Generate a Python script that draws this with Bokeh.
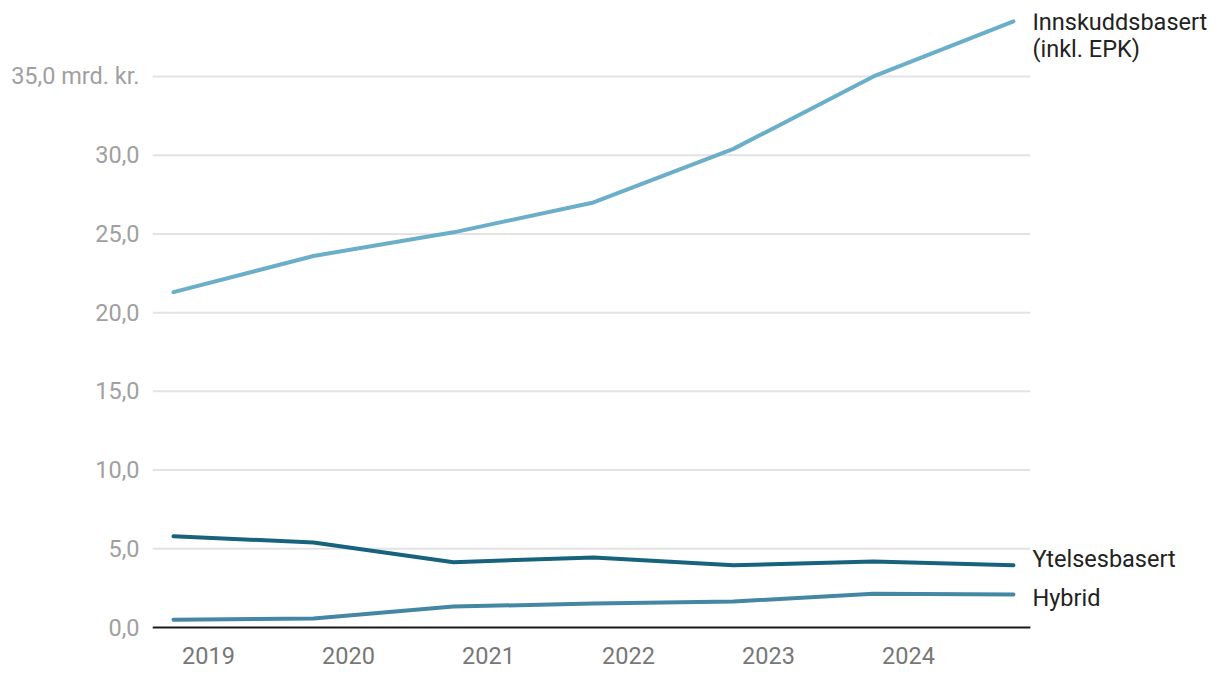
from bokeh.plotting import figure
from bokeh.models import Range1d, FixedTicker, CustomJSTickFormatter, Label
from bokeh.embed import file_html
from bokeh.resources import INLINE

# Data
periods = [0, 1, 2, 3, 4, 5, 6]
year_labels = ["2019", "2020", "2021", "2022", "2023", "2024"]
innskudd = [21.3, 23.6, 25.1, 27.0, 30.4, 35.0, 38.5]
ytelses = [5.8, 5.4, 4.15, 4.45, 3.95, 4.2, 3.95]
hybrid = [0.5, 0.57, 1.33, 1.52, 1.65, 2.15, 2.1]
y_ticks = [0, 5, 10, 15, 20, 25, 30, 35]
series_names = ["Innskuddsbasert", "(inkl. EPK)", "Ytelsesbasert", "Hybrid"]

FONT = "Roboto"
FS = "23.5px"
c_inn = "#6aaec9"
c_yt = "#17627d"
c_hy = "#4387a4"

X0, X1 = -0.15, 6.121   # plotted area (grid extent)
p = figure(width=1220, height=678, output_backend="svg", toolbar_location=None,
           x_range=Range1d(X0, 7.479), y_range=Range1d(-0.127, 39.0),
           min_border_left=152, min_border_right=0, min_border_top=13, min_border_bottom=49)
p.outline_line_color = None
p.xgrid.grid_line_color = None
p.ygrid.grid_line_color = None

# grid lines limited to plotting area
grid_y = [t for t in y_ticks if t > 0]
p.segment(x0=[X0] * len(grid_y), x1=[X1] * len(grid_y), y0=grid_y, y1=grid_y,
          line_color="#e3e3e3", line_width=2)

p.yaxis.ticker = FixedTicker(ticks=y_ticks)
p.yaxis.formatter = CustomJSTickFormatter(code="""
var s = tick.toFixed(1).replace('.', ',');
if (tick == 35) { s += ' mrd. kr.'; }
return s;
""")
p.yaxis.axis_line_color = None
p.yaxis.major_tick_line_color = None
p.yaxis.minor_tick_line_color = None
p.yaxis.major_tick_out = 0
p.yaxis.major_label_standoff = 13
p.yaxis.major_label_text_font = FONT
p.yaxis.major_label_text_font_size = FS
p.yaxis.major_label_text_color = "#a0a0a0"

p.xaxis.ticker = FixedTicker(ticks=[i + 0.25 for i in range(len(year_labels))])
p.xaxis.formatter = CustomJSTickFormatter(args=dict(labels=year_labels),
                                          code="return labels[Math.round(tick - 0.25)];")
p.xaxis.axis_line_color = None
p.xaxis.major_tick_line_color = None
p.xaxis.minor_tick_line_color = None
p.xaxis.major_tick_out = 0
p.xaxis.major_label_standoff = 17
p.xaxis.major_label_text_font = FONT
p.xaxis.major_label_text_font_size = FS
p.xaxis.major_label_text_color = "#777777"

p.line(periods, innskudd, line_color=c_inn, line_width=4, line_cap="round", line_join="round")
p.line(periods, ytelses, line_color=c_yt, line_width=4, line_cap="round", line_join="round")
p.line(periods, hybrid, line_color=c_hy, line_width=4, line_cap="round", line_join="round")

# baseline
p.segment(x0=[X0], x1=[X1], y0=[0], y1=[0], line_color="#1a1a1a", line_width=2)

last = periods[-1]
lab_kw = dict(text_font=FONT, text_font_size=FS, text_color="#222222",
              text_baseline="middle", text_align="left", x_offset=19)
p.add_layout(Label(x=last, y=innskudd[-1], text=series_names[0], y_offset=-1, **lab_kw))
p.add_layout(Label(x=last, y=innskudd[-1], text=series_names[1], y_offset=-28, **lab_kw))
p.add_layout(Label(x=last, y=ytelses[-1], text=series_names[2], y_offset=6, **lab_kw))
p.add_layout(Label(x=last, y=hybrid[-1], text=series_names[3], y_offset=-4, **lab_kw))

open("out.html", "w").write(file_html(p, INLINE))
